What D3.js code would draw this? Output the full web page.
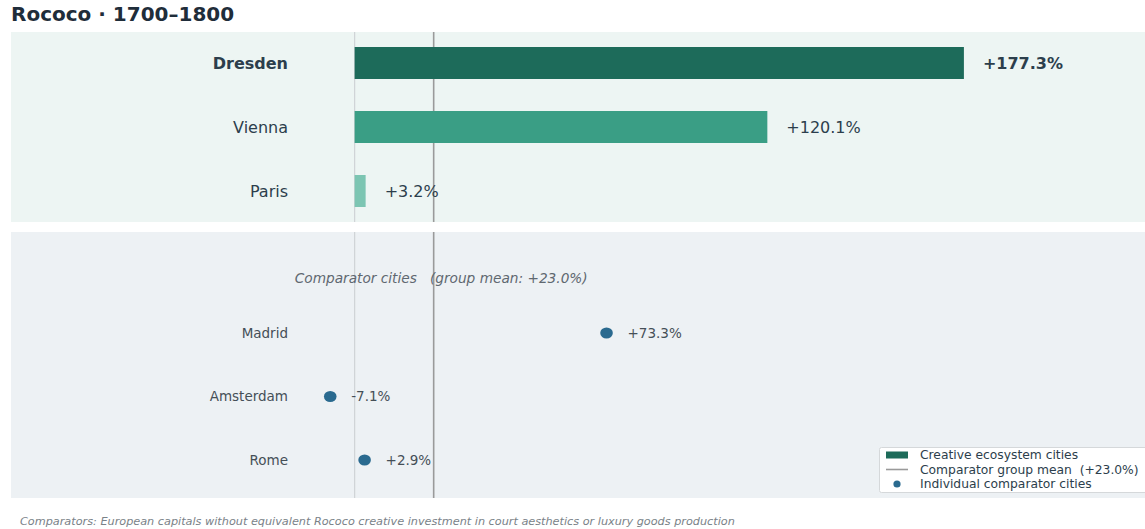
<!DOCTYPE html>
<html>
<head>
<meta charset="utf-8">
<script src="https://cdn.jsdelivr.net/npm/d3@7"></script>
<style>
  html, body { margin: 0; padding: 0; background: #ffffff; }
  svg { display: block; font-family: "DejaVu Sans", sans-serif; }
</style>
</head>
<body>
<div id="chart"></div>
<script>
// Growth over the period, percent
const creativeCities = ["Dresden", "Vienna", "Paris"];
const creativeValues = [177.3, 120.1, 3.2];
const creativeColors = ["#1d6b5a", "#3a9e85", "#7cc5b2"];

const comparatorCities = ["Madrid", "Amsterdam", "Rome"];
const comparatorValues = [73.3, -7.1, 2.9];

const comparatorMean = 23.0;

const legendLabels = [
  "Creative ecosystem cities",
  "Comparator group mean  (+23.0%)",
  "Individual comparator cities"
];

const W = 1145, H = 529;
const fmt = v => (v >= 0 ? "+" : "") + v.toFixed(1) + "%";

const svg = d3.select("#chart").append("svg")
  .attr("width", W).attr("height", H);

// shared horizontal value scale
const x = d3.scaleLinear().domain([-100, 230]).range([11, 1145]);

const topPanel = { y0: 32, y1: 222 };
const botPanel = { y0: 232, y1: 498 };

// title
svg.append("text")
  .attr("x", 11).attr("y", 21)
  .attr("font-size", 20).attr("font-weight", "bold")
  .attr("fill", "#1f2d3a")
  .text("Rococo · 1700–1800");

// panel backgrounds
svg.append("rect")
  .attr("x", x.range()[0]).attr("y", topPanel.y0)
  .attr("width", x.range()[1] - x.range()[0]).attr("height", topPanel.y1 - topPanel.y0)
  .attr("fill", "#edf5f3");
svg.append("rect")
  .attr("x", x.range()[0]).attr("y", botPanel.y0)
  .attr("width", x.range()[1] - x.range()[0]).attr("height", botPanel.y1 - botPanel.y0)
  .attr("fill", "#edf1f4");

// row scales
const yTop = d3.scalePoint().domain(creativeCities).range([63, 191]);
const yBot = d3.scalePoint().domain(comparatorCities).range([333, 460]);
const headerY = 278;

// reference lines (zero and comparator mean) in each panel
[topPanel, botPanel].forEach(p => {
  svg.append("line")
    .attr("x1", x(0)).attr("x2", x(0))
    .attr("y1", p.y0).attr("y2", p.y1)
    .attr("stroke", "#cfd3d6").attr("stroke-width", 1.2);
  svg.append("line")
    .attr("x1", x(comparatorMean)).attr("x2", x(comparatorMean))
    .attr("y1", p.y0).attr("y2", p.y1)
    .attr("stroke", "#9a9a9a").attr("stroke-width", 1.6);
});

// creative ecosystem bars
const barH = 32;
const topRows = svg.append("g").selectAll("g")
  .data(creativeCities.map((c, i) => ({ c, v: creativeValues[i], col: creativeColors[i], i })))
  .join("g");

topRows.append("rect")
  .attr("x", d => x(Math.min(0, d.v)))
  .attr("y", d => yTop(d.c) - barH / 2)
  .attr("width", d => Math.abs(x(d.v) - x(0)))
  .attr("height", barH)
  .attr("fill", d => d.col);

topRows.append("text")
  .attr("x", 288)
  .attr("y", d => yTop(d.c))
  .attr("dy", "0.35em")
  .attr("text-anchor", "end")
  .attr("font-size", 16)
  .attr("font-weight", d => d.i === 0 ? "bold" : "normal")
  .attr("fill", "#2c3e4c")
  .text(d => d.c);

topRows.append("text")
  .attr("x", d => x(d.v) + 19)
  .attr("y", d => yTop(d.c))
  .attr("dy", "0.35em")
  .attr("font-size", 16)
  .attr("font-weight", d => d.i === 0 ? "bold" : "normal")
  .attr("fill", "#2c3e4c")
  .text(d => fmt(d.v));

// comparator header
svg.append("text")
  .attr("x", x(25.2))
  .attr("y", headerY)
  .attr("dy", "0.35em")
  .attr("text-anchor", "middle")
  .attr("font-size", 13.7)
  .attr("font-style", "italic")
  .attr("fill", "#5f6870")
  .style("white-space", "pre")
  .text("Comparator cities   (group mean: " + fmt(comparatorMean) + ")");

// comparator dots
const botRows = svg.append("g").selectAll("g")
  .data(comparatorCities.map((c, i) => ({ c, v: comparatorValues[i] })))
  .join("g");

botRows.append("ellipse")
  .attr("cx", d => x(d.v))
  .attr("cy", d => yBot(d.c))
  .attr("rx", 6.3).attr("ry", 5.6)
  .attr("fill", "#2a6a8f");

botRows.append("text")
  .attr("x", 288)
  .attr("y", d => yBot(d.c))
  .attr("dy", "0.35em")
  .attr("text-anchor", "end")
  .attr("font-size", 13.5)
  .attr("fill", "#454f57")
  .text(d => d.c);

botRows.append("text")
  .attr("x", d => x(d.v) + 21)
  .attr("y", d => yBot(d.c))
  .attr("dy", "0.35em")
  .attr("font-size", 13.5)
  .attr("fill", "#454f57")
  .text(d => fmt(d.v));

// legend
const lg = svg.append("g").attr("transform", "translate(879,447)");
lg.append("rect")
  .attr("x", 0.5).attr("y", 0.5).attr("width", 272).attr("height", 45)
  .attr("rx", 2)
  .attr("fill", "#ffffff").attr("stroke", "#d5d8da");
const ly = d3.scalePoint().domain(legendLabels).range([8, 37]);
lg.append("rect")
  .attr("x", 7).attr("y", ly(legendLabels[0]) - 3.5)
  .attr("width", 22).attr("height", 7)
  .attr("fill", creativeColors[0]);
lg.append("line")
  .attr("x1", 7).attr("x2", 29)
  .attr("y1", ly(legendLabels[1])).attr("y2", ly(legendLabels[1]))
  .attr("stroke", "#9a9a9a").attr("stroke-width", 1.6);
lg.append("circle")
  .attr("cx", 18).attr("cy", ly(legendLabels[2]))
  .attr("r", 3.6).attr("fill", "#2a6a8f");
lg.selectAll("text.lab").data(legendLabels).join("text")
  .attr("class", "lab")
  .attr("x", 41)
  .attr("y", d => ly(d))
  .attr("dy", "0.35em")
  .attr("font-size", 12.3)
  .attr("fill", "#2c3e4c")
  .style("white-space", "pre")
  .text(d => d);

// footnote
svg.append("text")
  .attr("x", 20).attr("y", 521)
  .attr("dy", "0.35em")
  .attr("font-size", 11.25)
  .attr("font-style", "italic")
  .attr("fill", "#7a8288")
  .text("Comparators: European capitals without equivalent Rococo creative investment in court aesthetics or luxury goods production");
</script>
</body>
</html>
